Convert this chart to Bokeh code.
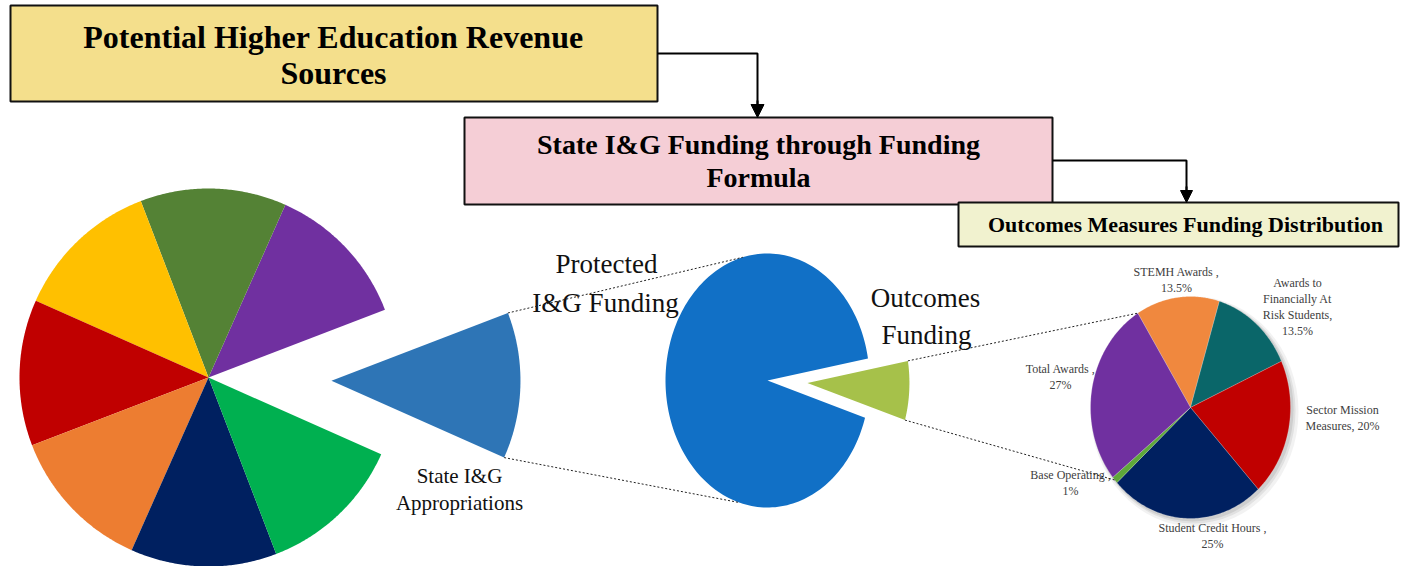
import numpy as np
from bokeh.plotting import figure
from bokeh.models import Range1d, Arrow, NormalHead
from bokeh.core.properties import value
from bokeh.embed import file_html
from bokeh.resources import INLINE

# ---------------- data ----------------
# Left pie: potential revenue sources (8 equal shares), first = State I&G Appropriations
revenue_values = [1, 1, 1, 1, 1, 1, 1, 1]
revenue_colors = ["#2e75b6", "#7030a0", "#548235", "#ffc000",
                  "#c00000", "#ed7d31", "#002060", "#00b050"]
revenue_label = ["State I&G", "Appropriations"]

# Middle pie: State I&G funding through formula
formula_labels = ["Protected I&G Funding", "Outcomes Funding"]
formula_values = [92.5, 7.5]
formula_colors = ["#1170c6", "#a6c14a"]

# Right pie: outcomes measures funding distribution (clockwise from STEMH)
outcome_labels = [["STEMH Awards ,", "13.5%"],
                  ["Awards to", "Financially At", "Risk Students,", "13.5%"],
                  ["Sector Mission", "Measures, 20%"],
                  ["Student Credit Hours ,", "25%"],
                  ["Base Operating ,", "1%"],
                  ["Total Awards ,", "27%"]]
outcome_values = [13.5, 13.5, 20, 25, 1, 27]
outcome_colors = ["#f0883e", "#0a6669", "#c00000", "#002060", "#5fa83a", "#7030a0"]

box_titles = [["Potential Higher Education Revenue", "Sources"],
              ["State I&G Funding through Funding", "Formula"],
              ["Outcomes Measures Funding Distribution"]]

# ---------------- figure ----------------
W, H = 1401, 566
p = figure(width=W, height=H, x_range=Range1d(0, W), y_range=Range1d(H, 0),
           output_backend="svg", toolbar_location=None,
           x_axis_type=None, y_axis_type=None, min_border=0)
p.grid.visible = False
p.outline_line_color = None
p.background_fill_color = "white"
p.border_fill_color = "white"

SERIF = value("Liberation Serif")


def wedge(cx, cy, rx, ry, a0, a1, n=90):
    t = np.radians(np.linspace(a0, a1, n))
    xs = [cx] + list(cx + rx * np.cos(t))
    ys = [cy] + list(cy - ry * np.sin(t))
    return xs, ys


def on_ellipse(cx, cy, rx, ry, a):
    t = np.radians(a)
    return cx + rx * np.cos(t), cy - ry * np.sin(t)


# ---------------- left pie ----------------
L_cx, L_cy, L_r = 208, 377, 189
L_start = -24.0
L_explode = 123
fr = np.array(revenue_values, float) / sum(revenue_values)
edges = L_start + 360 * np.concatenate([[0], np.cumsum(fr)])
xs_all, ys_all = [], []
blue_corners = None
for i in range(len(revenue_values)):
    a0, a1 = edges[i], edges[i + 1]
    cx, cy = L_cx, L_cy
    if i == 0:
        mid = np.radians((a0 + a1) / 2)
        cx += L_explode * np.cos(mid)
        cy -= L_explode * np.sin(mid)
        blue_corners = (on_ellipse(cx, cy, L_r, L_r, a1), on_ellipse(cx, cy, L_r, L_r, a0))
    xs, ys = wedge(cx, cy, L_r, L_r, a0, a1)
    xs_all.append(xs)
    ys_all.append(ys)
p.patches(xs_all, ys_all, fill_color=revenue_colors, line_color=None)

p.text(x=[459, 459], y=[475, 502], text=revenue_label, text_font=SERIF,
       text_font_size="21px", text_align="center", text_baseline="middle",
       text_color="#111111")

# ---------------- middle pie ----------------
M_cx, M_cy, M_rx, M_ry = 767, 380, 102, 127
M_start = 10.0
M_explode = 40
fr = np.array(formula_values, float) / sum(formula_values)
edges = M_start + 360 * np.concatenate([[0], np.cumsum(fr)])
xs_all, ys_all = [], []
green_corners = None
for i in range(len(formula_values)):
    a0, a1 = edges[i], edges[i + 1]
    cx, cy = M_cx, M_cy
    if i == 1:
        mid = np.radians((a0 + a1) / 2)
        cx += M_explode * np.cos(mid)
        cy -= M_explode * np.sin(mid)
        green_corners = (on_ellipse(cx, cy, M_rx, M_ry, a1), on_ellipse(cx, cy, M_rx, M_ry, a0))
    xs, ys = wedge(cx, cy, M_rx, M_ry, a0, a1, n=200)
    xs_all.append(xs)
    ys_all.append(ys)
p.patches(xs_all, ys_all, fill_color=formula_colors, line_color=None)

p.text(x=[606, 605], y=[263, 302], text=["Protected", "I&G Funding"], text_font=SERIF,
       text_font_size="27px", text_align="center", text_baseline="alphabetic",
       text_color="#111111")
p.text(x=[925, 926], y=[297, 334], text=["Outcomes", "Funding"], text_font=SERIF,
       text_font_size="27px", text_align="center", text_baseline="alphabetic",
       text_color="#111111")

# ---------------- right pie ----------------
R_cx, R_cy, R_rx, R_ry = 1190, 407, 100, 111
R_start_clock = -31.8
# soft shadow
for off, grow, alpha in [(4, 4, 0.10), (3, 2, 0.15), (2, 1, 0.2)]:
    p.ellipse(x=[R_cx + off], y=[R_cy + off], width=2 * (R_rx + grow),
              height=2 * (R_ry + grow), fill_color="#808080", fill_alpha=alpha,
              line_color=None)
fr = np.array(outcome_values, float) / sum(outcome_values)
clock_edges = R_start_clock + 360 * np.concatenate([[0], np.cumsum(fr)])
xs_all, ys_all = [], []
for i in range(len(outcome_values)):
    c0, c1 = clock_edges[i], clock_edges[i + 1]
    xs, ys = wedge(R_cx, R_cy, R_rx, R_ry, 90 - c1, 90 - c0)
    xs_all.append(xs)
    ys_all.append(ys)
p.patches(xs_all, ys_all, fill_color=outcome_colors, line_color="#ffffff",
          line_width=0.4, line_alpha=0.5)

label_pos = [(1176, 271), (1297, 282), (1342, 409), (1212, 527), (1070, 474), (1060, 368)]
lx, ly, lt = [], [], []
for (x0, y0), lines in zip(label_pos, outcome_labels):
    for k, s in enumerate(lines):
        lx.append(x0)
        ly.append(y0 + 16 * k)
        lt.append(s)
p.text(x=lx, y=ly, text=lt, text_font=SERIF, text_font_size="12px",
       text_align="center", text_baseline="middle", text_color="#404040")

# ---------------- dotted connectors ----------------
m_top = on_ellipse(M_cx, M_cy, M_rx, M_ry, 104)
m_bot = on_ellipse(M_cx, M_cy, M_rx, M_ry, 254)
r_top = on_ellipse(R_cx, R_cy, R_rx, R_ry, 90 - clock_edges[0])
base_mid = (clock_edges[4] + clock_edges[5]) / 2
r_bot = on_ellipse(R_cx, R_cy, R_rx, R_ry, 90 - base_mid)
conn = [(blue_corners[0], m_top), (blue_corners[1], m_bot),
        (green_corners[0], r_top), (green_corners[1], r_bot)]
p.multi_line([[a[0], b[0]] for a, b in conn], [[a[1], b[1]] for a, b in conn],
             line_color="#222222", line_width=1, line_dash="2 2")

# ---------------- title boxes ----------------
boxes = [(10, 657, 5, 101, "#f4df8c"), (464, 1052, 117, 204, "#f5ced6"),
         (958, 1398, 202, 246, "#f1f2cf")]
for (x0, x1, y0, y1, col) in boxes:
    p.quad(left=[x0], right=[x1], top=[y0], bottom=[y1], fill_color=col,
           line_color="#111111", line_width=2)

p.text(x=[333, 333], y=[36, 72], text=box_titles[0], text_font=SERIF,
       text_font_style="bold", text_font_size="32px", text_align="center",
       text_baseline="alphabetic", text_color="#000000")
p.text(x=[758, 758], y=[144, 177], text=box_titles[1], text_font=SERIF,
       text_font_style="bold", text_font_size="28px", text_align="center",
       text_baseline="alphabetic", text_color="#000000")
p.text(x=[1185], y=[224], text=box_titles[2], text_font=SERIF,
       text_font_style="bold", text_font_size="22px", text_align="center",
       text_baseline="alphabetic", text_color="#000000")

# ---------------- elbow arrows ----------------
p.line([657, 757, 757], [53, 53, 104], line_color="black", line_width=2)
p.add_layout(Arrow(end=NormalHead(size=13, fill_color="black", line_color="black"),
                   x_start=757, y_start=100, x_end=757, y_end=117,
                   line_color="black", line_width=2))
p.line([1052, 1186, 1186], [160, 160, 190], line_color="black", line_width=2)
p.add_layout(Arrow(end=NormalHead(size=12, fill_color="black", line_color="black"),
                   x_start=1186, y_start=186, x_end=1186, y_end=202,
                   line_color="black", line_width=2))

open("out.html", "w").write(file_html(p, INLINE))
